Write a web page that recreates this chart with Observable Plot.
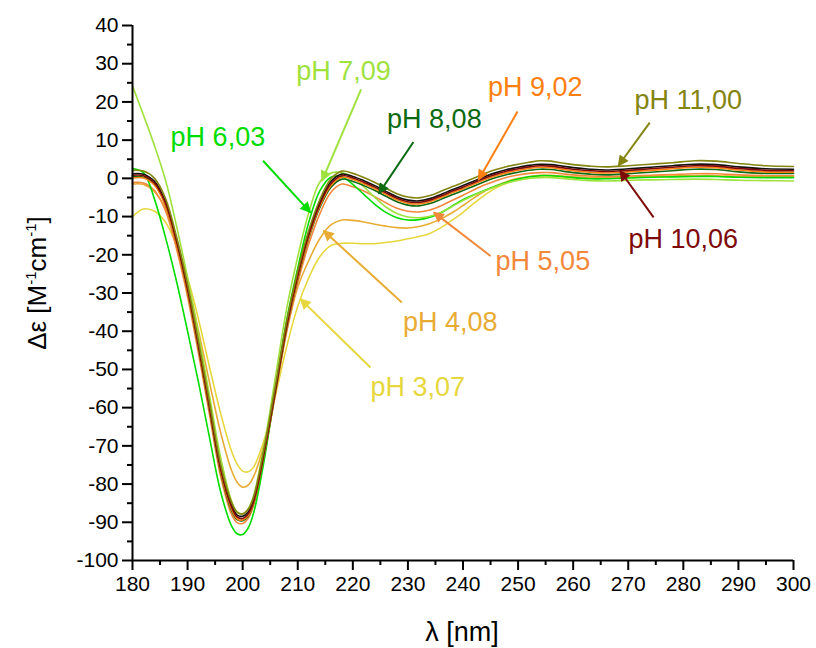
<!DOCTYPE html>
<html>
<head>
<meta charset="utf-8">
<script src="https://cdn.jsdelivr.net/npm/d3@7"></script>
<script src="https://cdn.jsdelivr.net/npm/@observablehq/plot@0.6"></script>
<style>
  html, body { margin: 0; padding: 0; background: #fff; }
  #chart { width: 816px; height: 648px; }
  #chart svg { font-family: "Liberation Sans", Arial, sans-serif; }
</style>
</head>
<body>
<div id="chart"></div>
<script>
// CD spectra of the peptide at different pH values
const wavelength = [180,182,184,186,188,190,192,194,196,198,199,200,201,202,204,206,208,210,212,214,216,218,220,222,224,226,228,230,232,234,236,238,240,242,244,246,248,250,252,254,256,258,260,263,266,270,274,278,282,286,290,295,300];

const ph307 = [-10,-8.0,-8.6,-11.5,-17.5,-26,-37,-49.5,-61.5,-71.5,-74.8,-76.6,-76.8,-75.5,-68,-56.5,-44,-33.5,-26,-20.5,-17.6,-17,-17,-17.1,-17.1,-16.8,-16.4,-15.8,-15.2,-14.4,-12.9,-11,-8.9,-6.5,-4.3,-2.5,-1.2,-0.3,0.3,0.6,0.6,0.4,0.2,0.1,0.1,0.2,0.4,0.5,0.6,0.6,0.4,0.3,0.3];
const ph408 = [-1.5,-1.6,-3.5,-8,-16,-27,-40,-53.5,-66.5,-76.5,-79.5,-80.8,-80.3,-78,-69,-55,-40,-28.5,-21.5,-15.8,-12.2,-10.9,-11,-11.4,-12,-12.5,-12.9,-13,-12.6,-11.8,-10.6,-9,-7.1,-5.1,-3.3,-1.9,-0.8,0,0.5,0.8,0.8,0.6,0.4,0.2,0.2,0.3,0.5,0.6,0.7,0.7,0.5,0.4,0.4];
const ph505 = [-1.1,-1.2,-3.2,-8.5,-18.5,-31,-46,-62,-78,-88,-90.1,-90.3,-89,-85.5,-72,-56,-40,-27.3,-17.2,-9.3,-3.7,-1.5,-2.2,-3.3,-4.8,-6.4,-7.8,-8.6,-8.8,-8.3,-7.2,-5.8,-4.4,-3.0,-1.7,-0.6,0.3,0.9,1.3,1.5,1.5,1.2,0.9,0.6,0.5,0.6,0.8,1.0,1.2,1.2,0.9,0.7,0.7];
const ph603 = [2.6,1.5,-5.5,-15.5,-27,-40,-53.5,-68,-82,-91,-93,-93.2,-91.5,-87.5,-73,-54.5,-37,-23.5,-11.5,-3.3,0.3,0.4,-1.6,-4.2,-6.8,-8.9,-10.3,-10.9,-10.8,-10.2,-9.0,-7.3,-5.6,-4.3,-3.1,-2.0,-1.0,-0.2,0.4,0.7,0.7,0.5,0.2,-0.1,-0.1,0.1,0.3,0.4,0.5,0.5,0.3,0.2,0.2];
const ph709 = [24.2,16.5,8.5,-0.5,-12.5,-26,-41,-57,-73,-84.5,-87.3,-87.8,-86.5,-83,-69,-51.5,-34,-20.5,-9,-1,1.4,1.5,0.3,-2.2,-5,-7.5,-9.2,-10.1,-10.3,-9.9,-8.9,-7.4,-5.8,-4.4,-3.2,-2.1,-1.2,-0.5,0,0.2,0.2,0,-0.3,-0.6,-0.7,-0.5,-0.4,-0.3,-0.2,-0.3,-0.5,-0.6,-0.7];
const ph808 = [0.4,0.3,-1.6,-7,-17,-29.6,-44.7,-60.8,-76.9,-87,-89.3,-89.6,-88.4,-85,-71.5,-55.5,-39.1,-26.2,-15.7,-7.7,-2.4,-0.2,-0.8,-1.9,-3.2,-4.7,-6.1,-7.0,-7.2,-6.6,-5.5,-4.3,-3.2,-2.0,-0.8,0.2,1.0,1.6,2.1,2.4,2.3,1.9,1.5,1.1,0.9,1.2,1.6,2.0,2.4,2.3,1.7,1.3,1.3];
const ph902 = [0.1,0.1,-1.8,-7.1,-17.1,-29.6,-44.6,-60.6,-76.6,-86.6,-89.1,-89.4,-88.2,-84.9,-71.4,-55.4,-38.9,-26,-15.4,-7.3,-1.9,0.3,-0.3,-1.4,-2.7,-4.2,-5.6,-6.5,-6.7,-6.1,-5.0,-3.8,-2.7,-1.5,-0.3,0.7,1.5,2.1,2.6,2.9,2.8,2.4,2.0,1.6,1.4,1.7,2.1,2.5,2.9,2.8,2.2,1.7,1.6];
const phRef = [1.2,1.1,-0.8,-6.1,-16.1,-28.6,-43.6,-59.6,-75.6,-85.6,-88.1,-88.4,-87.3,-84,-70.6,-54.6,-38.1,-25,-14.3,-6.3,-0.9,1.1,0.5,-0.6,-1.9,-3.4,-4.8,-5.7,-5.9,-5.3,-4.2,-3.0,-1.9,-0.7,0.5,1.5,2.3,2.9,3.4,3.7,3.6,3.2,2.8,2.4,2.2,2.5,2.9,3.3,3.7,3.6,3.0,2.5,2.4];
const ph1006 = [0.8,0.7,-1.2,-6.5,-16.5,-29,-44,-60,-76,-86,-88.6,-89,-87.8,-84.5,-71,-55,-38.5,-25.5,-14.8,-6.8,-1.4,0.7,0.1,-1,-2.3,-3.8,-5.2,-6.1,-6.3,-5.7,-4.6,-3.4,-2.3,-1.1,0.1,1.1,1.9,2.5,3.0,3.3,3.2,2.8,2.4,2.0,1.8,2.1,2.5,2.9,3.3,3.2,2.6,2.1,2.0];
const ph1100 = [2.1,1.9,0,-5.3,-15.3,-27.8,-42.8,-58.8,-74.8,-84.8,-87.4,-87.8,-86.6,-83.3,-69.8,-53.8,-37.3,-24.3,-13.6,-5.6,-0.2,1.9,1.3,0.2,-1.1,-2.6,-4.0,-4.9,-5.1,-4.5,-3.4,-2.2,-1.1,0.1,1.3,2.3,3.1,3.7,4.2,4.6,4.5,4.0,3.6,3.2,3.0,3.3,3.7,4.1,4.6,4.5,3.9,3.3,3.1];

const seriesValues = [ph307, ph408, ph505, ph603, ph709, ph808, ph902, phRef, ph1006, ph1100];
const seriesColors = ["#e6d73c", "#e8ac34", "#f2883a", "#00dc00", "#9fe23e", "#0e6a12", "#ff7f10", "#111111", "#7e0a0a", "#848410"];

// Labels with arrows pointing at their curves
const labelText = ["pH 3,07", "pH 4,08", "pH 5,05", "pH 6,03", "pH 7,09", "pH 8,08", "pH 9,02", "pH 10,06", "pH 11,00"];
const labelColors = ["#e6d73c", "#e8ac34", "#f2883a", "#00dc00", "#9fe23e", "#0e6a12", "#ff7f10", "#7e0a0a", "#848410"];
const labelX = [231.8, 237.7, 254.5, 195.5, 218.3, 234.8, 253.1, 280.0, 280.9];
const labelY = [-54.7, -37.8, -21.6, 10.7, 28.1, 15.5, 23.7, -15.9, 20.3];
const arrowFromX = [223.2, 228.9, 245.0, 203.7, 221.5, 231.0, 249.9, 274.6, 273.9];
const arrowFromY = [-49.5, -32.5, -20.3, 4.6, 23.3, 9.5, 17.5, -10.2, 14.6];
const arrowToX = [210.5, 214.7, 234.7, 212.3, 214.4, 224.7, 242.8, 268.5, 268.2];
const arrowToY = [-31.6, -13.7, -8.9, -8.9, -0.65, -4.0, -0.4, 2.0, 3.3];

const xMajor = d3.range(180, 301, 10);
const xMinor = d3.range(185, 300, 10);
const yMajor = d3.range(-100, 41, 10);
const yMinor = d3.range(-95, 40, 10);

const spectra = seriesValues.map((vals, k) =>
  wavelength.map((w, i) => ({ wl: w, de: vals[i], k }))
);
const notes = labelText.map((t, i) => ({
  text: t, color: labelColors[i],
  x: labelX[i], y: labelY[i],
  x1: arrowFromX[i], y1: arrowFromY[i], x2: arrowToX[i], y2: arrowToY[i]
}));

const chart = Plot.plot({
  width: 816,
  height: 648,
  marginLeft: 132,
  marginRight: 23,
  marginTop: 25,
  marginBottom: 88,
  x: { domain: [180, 300] },
  y: { domain: [-100, 40] },
  style: { background: "#fff", color: "#000", fontFamily: "'Liberation Sans', Arial, sans-serif" },
  marks: [
    ...spectra.map((rows, k) =>
      Plot.line(rows, { x: "wl", y: "de", stroke: seriesColors[k], strokeWidth: 1.6, curve: "catmull-rom" })
    ),
    ...notes.map(n =>
      Plot.link([n], { x1: "x1", y1: "y1", x2: "x2", y2: "y2", stroke: n.color, strokeWidth: 2 })
    ),
    ...notes.map(n =>
      Plot.text([n], { x: "x", y: "y", text: "text", fill: n.color, fontSize: 27, textAnchor: "middle" })
    ),
    Plot.axisX(xMajor, { tickSize: 10, tickPadding: 6, fontSize: 21, strokeWidth: 2, tickFormat: d => String(d), label: null }),
    Plot.axisX(xMinor, { tickSize: 5, strokeWidth: 2, tickFormat: () => "", label: null }),
    Plot.axisY(yMajor, { tickSize: 10, tickPadding: 4, fontSize: 21, strokeWidth: 2, tickFormat: d => String(d), label: null }),
    Plot.axisY(yMinor, { tickSize: 5, strokeWidth: 2, tickFormat: () => "", label: null }),
    Plot.ruleX([180], { stroke: "#000", strokeWidth: 2 }),
    Plot.ruleY([-100], { stroke: "#000", strokeWidth: 2 })
  ]
});

document.getElementById("chart").appendChild(chart);

// Filled triangular arrowheads on the label pointers
const svg = d3.select(chart);
const defs = svg.append("defs");
svg.selectAll('g[aria-label="link"]').each(function (_, i) {
  const g = d3.select(this);
  const color = g.attr("stroke");
  const id = "head" + i;
  defs.append("marker")
    .attr("id", id)
    .attr("viewBox", "0 0 10 10")
    .attr("refX", 9)
    .attr("refY", 5)
    .attr("markerUnits", "userSpaceOnUse")
    .attr("markerWidth", 14)
    .attr("markerHeight", 11)
    .attr("orient", "auto")
    .append("path")
    .attr("d", "M0,0L10,5L0,10Z")
    .attr("fill", color)
    .attr("stroke", "none");
  g.selectAll("path").attr("marker-end", `url(#${id})`);
});

// Axis titles
svg.append("text")
  .attr("x", 462)
  .attr("y", 641)
  .attr("text-anchor", "middle")
  .attr("font-size", 27)
  .attr("fill", "#000")
  .text("λ [nm]");

const yTitle = svg.append("text")
  .attr("transform", "translate(46,283) rotate(-90)")
  .attr("text-anchor", "middle")
  .attr("font-size", 26)
  .attr("fill", "#000");
yTitle.append("tspan").text("Δε [M");
yTitle.append("tspan").attr("dy", -10).attr("font-size", 15).text("-1");
yTitle.append("tspan").attr("dy", 10).text("cm");
yTitle.append("tspan").attr("dy", -10).attr("font-size", 15).text("-1");
yTitle.append("tspan").attr("dy", 10).text("]");
</script>
</body>
</html>
